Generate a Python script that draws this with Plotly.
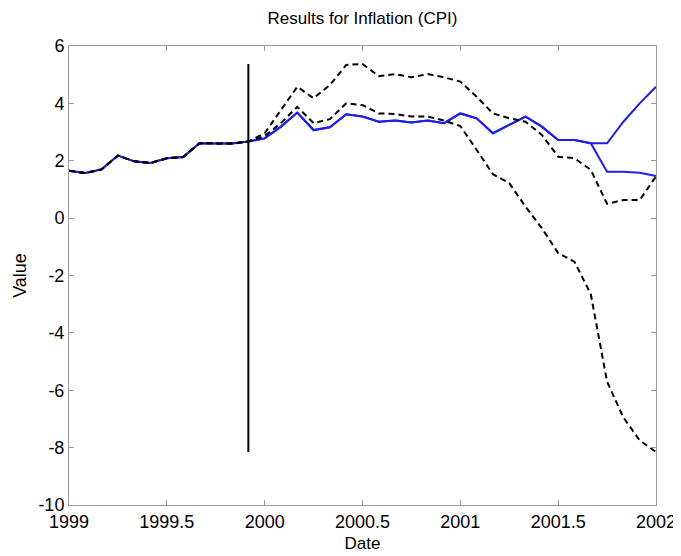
import plotly.graph_objects as go

# Monthly dates 1999 .. 2002
dates = [1999 + i / 12 for i in range(37)]

history = [1.65, 1.57, 1.70, 2.18, 1.98, 1.92, 2.09, 2.13, 2.61, 2.60, 2.60, 2.67]

blue_up_fc = [2.78, 3.19, 3.68, 3.07, 3.17, 3.62, 3.54, 3.36, 3.40, 3.33, 3.40, 3.31,
              3.65, 3.48, 2.96, 3.25, 3.54, 3.19, 2.72, 2.72, 2.61, 2.61, 3.36, 4.00, 4.58]
blue_down_fc = [2.78, 3.19, 3.68, 3.07, 3.17, 3.62, 3.54, 3.36, 3.40, 3.33, 3.40, 3.31,
                3.65, 3.48, 2.96, 3.25, 3.54, 3.19, 2.72, 2.72, 2.61, 1.62, 1.62, 1.58, 1.47]
upper_band_fc = [2.96, 3.77, 4.58, 4.18, 4.64, 5.34, 5.37, 4.95, 5.02, 4.91, 5.02, 4.91,
                 4.76, 4.23, 3.65, 3.48, 3.36, 2.90, 2.14, 2.09, 1.68, 0.50, 0.63, 0.63, 1.45]
lower_band_fc = [2.86, 3.31, 3.88, 3.31, 3.45, 4.00, 3.94, 3.65, 3.63, 3.54, 3.54, 3.40,
                 3.21, 2.38, 1.53, 1.22, 0.40, -0.35, -1.22, -1.52, -2.65, -5.70, -6.95, -7.75, -8.15]

blue_up = history + blue_up_fc
blue_down = history + blue_down_fc
upper_band = history + upper_band_fc
lower_band = history + lower_band_fc

forecast_start_index = 11

x_tickvals = [1999, 1999.5, 2000, 2000.5, 2001, 2001.5, 2002]
x_ticktext = ["1999", "1999.5", "2000", "2000.5", "2001", "2001.5", "2002"]
y_tickvals = [-10, -8, -6, -4, -2, 0, 2, 4, 6]
y_ticktext = ["-10", "-8", "-6", "-4", "-2", "0", "2", "4", "6"]

blue = "rgb(30,30,235)"
font_family = "Liberation Sans, Arial, sans-serif"

fig = go.Figure()
for series in (blue_down, blue_up):
    fig.add_trace(go.Scatter(x=dates, y=series, mode="lines",
                             line=dict(color=blue, width=2), showlegend=False))
for series in (upper_band, lower_band):
    fig.add_trace(go.Scatter(x=dates, y=series, mode="lines",
                             line=dict(color="black", width=2, dash="6px,4px"),
                             showlegend=False))

vx = dates[forecast_start_index]
fig.add_trace(go.Scatter(x=[vx, vx], y=[min(lower_band), max(upper_band)], mode="lines",
                         line=dict(color="black", width=2), showlegend=False))

axis_common = dict(
    showgrid=False, zeroline=False, showline=True, mirror="ticks",
    linecolor="#9a9a9a", linewidth=1, ticks="inside", ticklen=5,
    tickcolor="#9a9a9a", automargin=False,
    tickfont=dict(family=font_family, size=18, color="black"),
)

# the page body adds an 8px offset, so the figure is sized to fit the 681x556 window
fig.update_layout(
    width=673, height=548,
    margin=dict(l=61, r=25, t=38, b=51),
    paper_bgcolor="white", plot_bgcolor="white",
    font=dict(family=font_family, color="black"),
    title=dict(text="Results for Inflation (CPI)", x=0.5, xref="paper",
               y=1 - 10 / 548, yanchor="middle",
               font=dict(family=font_family, size=17, color="black")),
    xaxis=dict(range=[1999, 2002], tickvals=x_tickvals, ticktext=x_ticktext,
               title=dict(text="Date", standoff=6,
                          font=dict(family=font_family, size=17, color="black")),
               **axis_common),
    yaxis=dict(range=[-10, 6], tickvals=y_tickvals, ticktext=y_ticktext,
               title=dict(text="Value", standoff=7,
                          font=dict(family=font_family, size=18, color="black")),
               **axis_common),
)

fig.write_html("out.html")
